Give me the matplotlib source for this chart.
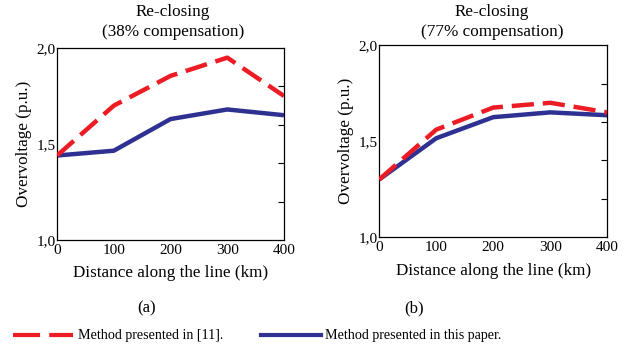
import matplotlib.pyplot as plt
from matplotlib.ticker import FixedLocator, FuncFormatter
from matplotlib.lines import Line2D

plt.rcParams['font.family'] = ['Liberation Serif', 'DejaVu Serif']

distance = [0, 100, 200, 300, 400]

# (a) 38% compensation
ref11_a = [1.44, 1.70, 1.855, 1.95, 1.75]
paper_a = [1.44, 1.465, 1.63, 1.68, 1.65]

# (b) 77% compensation
ref11_b = [1.30, 1.56, 1.675, 1.70, 1.65]
paper_b = [1.30, 1.515, 1.625, 1.65, 1.635]

titles = ["Re-closing\n(38% compensation)", "Re-closing\n(77% compensation)"]
panel_tags = ["(a)", "(b)"]
y_labels = [1.0, 1.5, 2.0]
y_minor = [1.2, 1.4, 1.6, 1.8]

red = '#ED1C24'
blue = '#2E3192'

fig = plt.figure(figsize=(6.34, 3.56), dpi=100)
ax_a = fig.add_axes([0.090, 0.326, 0.358, 0.539])
ax_b = fig.add_axes([0.598, 0.334, 0.360, 0.539])

for ax, r, p in [(ax_a, ref11_a, paper_a), (ax_b, ref11_b, paper_b)]:
    ax.plot(distance, r, color=red, lw=3.2, dashes=(5, 2), solid_capstyle='butt', zorder=3)
    ax.plot(distance, p, color=blue, lw=3.2, solid_capstyle='butt', zorder=2)
    ax.set_xlim(0, 400)
    ax.set_ylim(1.0, 2.0)
    ax.set_xticks(distance)
    ax.yaxis.set_major_locator(FixedLocator(y_labels))
    ax.yaxis.set_minor_locator(FixedLocator(y_minor))
    ax.yaxis.set_major_formatter(FuncFormatter(lambda v, pos: f"{v:.1f}".replace('.', ',')))
    ax.tick_params(axis='x', length=0, labelsize=11, pad=3)
    ax.tick_params(axis='y', which='major', length=0, labelsize=11, pad=1)
    ax.tick_params(axis='y', which='minor', left=False, right=True, direction='in', length=4, width=0.8)
    for s in ax.spines.values():
        s.set_linewidth(0.9)
    ax.set_xlabel("Distance along the line (km)", fontsize=12.3, labelpad=6)
    ax.set_ylabel("Overvoltage (p.u.)", fontsize=12.3, labelpad=3)

# two-line titles, placed in figure pixels
fig.text(173 / 634, 1 - 22 / 356, titles[0], ha='center', va='center', fontsize=12.3, linespacing=1.25)
fig.text(492 / 634, 1 - 22 / 356, titles[1], ha='center', va='center', fontsize=12.3, linespacing=1.25)

fig.text(147 / 634, 1 - 308 / 356, panel_tags[0], ha='center', va='center', fontsize=12)
fig.text(414 / 634, 1 - 308 / 356, panel_tags[1], ha='center', va='center', fontsize=12)

h1 = Line2D([], [], color=red, lw=3, dashes=(6.5, 2.2))
h2 = Line2D([], [], color=blue, lw=3)
fig.legend([h1, h2], ["Method presented in [11].", "Method presented in this paper."],
           loc='center left', bbox_to_anchor=(13 / 634, 1 - 336 / 356), ncol=2,
           frameon=False, fontsize=10.1, handlelength=4.3, handletextpad=0.3,
           columnspacing=2.7, borderpad=0, borderaxespad=0)

fig.savefig('out.png', dpi=100)
